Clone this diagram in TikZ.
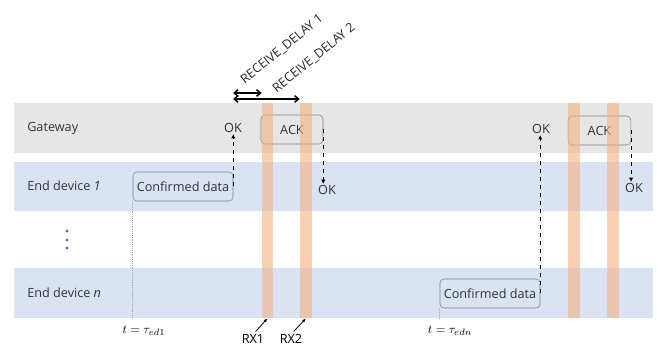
\documentclass[tikz,border=0pt]{standalone}
\usepackage{fontspec}
\setmainfont{Open Sans}
\usetikzlibrary{positioning, arrows.meta}
\definecolor{gwgray}{HTML}{E7E6E6}
\definecolor{edblue}{HTML}{DAE3F3}
\definecolor{rxorange}{HTML}{F4B183}
\definecolor{boxgray}{HTML}{7F7F7F}
\definecolor{dotblue}{HTML}{4472C4}
\tikzset{
	lane/.style={rectangle, inner sep=0pt, minimum width=479.25pt, anchor=west},
	lanelabel/.style={anchor=west, inner sep=0pt, font=\fontsize{9.5}{11}\selectfont, text=black!80},
	msgbox/.style={draw=boxgray, rectangle, rounded corners=3pt, inner sep=0pt, minimum height=21.75pt, font=\fontsize{9.5}{11}\selectfont, text=black!80},
	oktext/.style={inner sep=1pt, font=\fontsize{9.5}{11}\selectfont, text=black!80},
	rxwin/.style={rectangle, inner sep=0pt, fill=rxorange, fill opacity=0.6, minimum height=161.25pt},
	% rotated delay labels above the gateway lane
	delaytext/.style={anchor=south west, inner sep=0pt, rotate=39, font=\fontsize{9.5}{11}\selectfont, text=black!85},
	timetext/.style={inner sep=0pt, font=\fontsize{9.5}{11}\selectfont},
}

\begin{document}
\begin{tikzpicture}[x=0.75pt, y=-0.75pt]
\useasboundingbox (0,0) rectangle (658,345);

\node (gwlane) [lane, fill=gwgray, minimum height=37.5pt] at (14,128) {};
\node (ed1lane) [lane, fill=edblue, minimum height=36.75pt] at (14,186.5) {};
\node (ednlane) [lane, fill=edblue, minimum height=37.5pt] at (14,293) {};

\node (gw) [lanelabel] at (27,128) {Gateway};
\node (ed1) [lanelabel] at (27,186) {End device \textit{1}};
\node (edn) [lanelabel] at (27,293) {End device \textit{n}};

\foreach \y in {231,240,248}
	\fill[dotblue] (67,\y) circle (1.3pt);

\node (cd1) [msgbox, minimum width=75pt] at (183,186.5) {Confirmed data};
\node (cdn) [msgbox, minimum width=75pt] at (490,293.5) {Confirmed data};
\node (ack1) [msgbox, minimum width=46.5pt] at (292,129.5) {ACK};
\node (ack2) [msgbox, minimum width=47pt] at (599.5,130.5) {ACK};

\node (gwok1) [oktext] at (233,128) {OK};
\node (edok1) [oktext] at (327,190) {OK};
\node (gwok2) [oktext] at (541,129) {OK};
\node (edok2) [oktext] at (634,188) {OK};

%\node (rx) [rxwin] ...
\node (rx1) [rxwin, minimum width=8.25pt] at (267.5,210.5) {};
\node (rx2) [rxwin, minimum width=9pt] at (306,210.5) {};
\node (rx3) [rxwin, minimum width=9pt] at (574,210.5) {};
\node (rx4) [rxwin, minimum width=9pt] at (613,210.5) {};

\node (t1) [timetext] at (144,331) {$t=\tau_{ed1}$};
\node (tn) [timetext] at (450,331) {$t=\tau_{edn}$};
\node (rx1lab) [timetext] at (253,339) {RX1};
\node (rx2lab) [timetext] at (291,339) {RX2};

\coordinate (d1) at (233,93);
\coordinate (d2) at (233,99);
\node (delay1) [delaytext] at (246,86) {RECEIVE\_DELAY 1};
\node (delay2) [delaytext] at (278,95) {RECEIVE\_DELAY 2};

\begin{scope}[black, dashed, -{Latex[length=3pt, width=3pt]}]
	\draw (cd1.east) -- (cd1.east |- gwok1.south);
	\draw (ack1.east) -- (ack1.east |- edok1.north);
	\draw (cdn.east) -- (cdn.east |- gwok2.south);
	\draw (ack2.east) -- (ack2.east |- edok2.north);
\end{scope}

\begin{scope}[black!35, densely dotted]
	\draw (cd1.south west) -- (cd1.south west |- ednlane.south);
	\draw (cdn.south west) -- (cdn.south west |- ednlane.south);
\end{scope}

\begin{scope}[black, line width=1.1pt, {Straight Barb[length=3pt, width=5pt]}-{Straight Barb[length=3pt, width=5pt]}]
	\draw (d1) -- (rx1.west |- d1);
	\draw (d2) -- (rx2.west |- d2);
\end{scope}

\begin{scope}[black, semithick, -{Latex[length=3pt]}]
	\draw ([xshift=2pt, yshift=2pt]rx1lab.north) -- (rx1.south);
	\draw ([xshift=2pt, yshift=2pt]rx2lab.north) -- (rx2.south);
\end{scope}
\end{tikzpicture}
\end{document}
